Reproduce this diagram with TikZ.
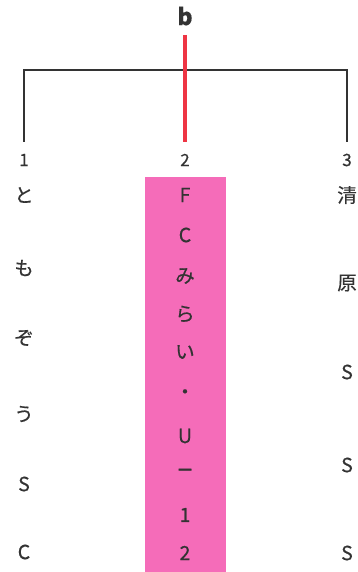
\documentclass[tikz,border=0pt]{standalone}
\usepackage{fontspec}
\setmainfont{Noto Sans CJK JP}[FakeBold=0.5]
\definecolor{ink}{HTML}{333333}
\definecolor{pinkbar}{HTML}{F56CB9}
\definecolor{redline}{HTML}{EE3544}
\begin{document}
\begin{tikzpicture}[x=1pt,y=-1pt,
  ch/.style={text=ink,font=\fontsize{19.5}{19.5}\selectfont,inner sep=0pt,anchor=center},
  num/.style={text=ink,font=\fontsize{17}{17}\selectfont,inner sep=0pt,anchor=center},
  tree/.style={draw=ink,line width=1.4pt},
  redl/.style={draw=redline,line width=3.4pt}]
\useasboundingbox (0,0) rectangle (358,572);
\fill[pinkbar] (145,177) rectangle (226,572);
\node[text=ink,font=\fontsize{23}{23}\selectfont\bfseries,inner sep=0pt] (b) at (185,16) {b};
\coordinate (rt) at (185,35);
\coordinate (hl) at (24,70);
\coordinate (hr) at (347,70);
\coordinate (l1) at (24,142);
\coordinate (l2) at (185,142);
\coordinate (l3) at (347,142);
\draw[tree] (l1) -- (hl) -- (hr) -- (l3);
\draw[redl] (rt) -- (l2);
\node[num] (n1) at (24,160) {1};
\node[num] (n2) at (185,160) {2};
\node[num] (n3) at (347,160) {3};
% left column
\node[ch] (a1) at (24,195) {と};
\node[ch] (a2) at (24,268) {も};
\node[ch] (a3) at (24,338) {ぞ};
\node[ch] (a4) at (24,414) {う};
\node[ch] (a5) at (24,484) {S};
\node[ch] (a6) at (24,552) {C};
% middle column
\node[ch] (m1) at (185,195) {F};
\node[ch] (m2) at (185,235) {C};
\node[ch] (m3) at (185,276) {み};
\node[ch] (m4) at (185,314) {ら};
\node[ch] (m5) at (185,352) {い};
\node[ch] (m6) at (185,394) {・};
\node[ch] (m7) at (185,436) {U};
\node[ch,font=\fontsize{26}{26}\selectfont] (m8) at (185,474) {−};
\node[ch] (m9) at (185,515) {1};
\node[ch] (m10) at (185,553) {2};
% right column
\node[ch] (r1) at (347,195) {清};
\node[ch] (r2) at (347,283) {原};
\node[ch] (r3) at (347,372) {S};
\node[ch] (r4) at (347,465) {S};
\node[ch] (r5) at (347,553) {S};
\end{tikzpicture}
\end{document}
